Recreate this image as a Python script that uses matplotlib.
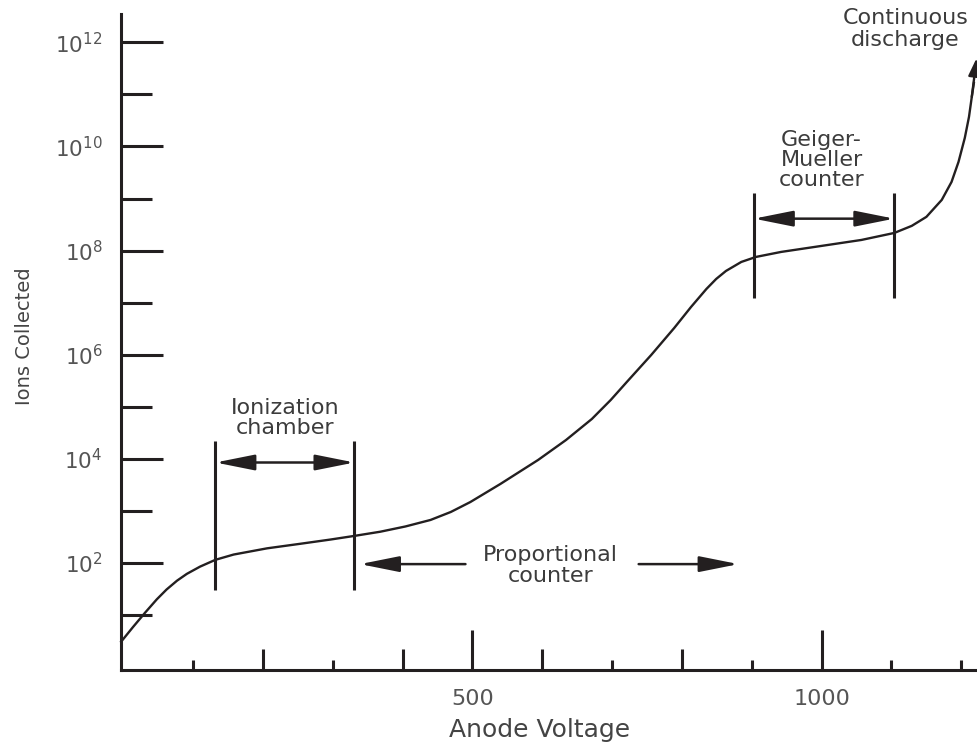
import matplotlib.pyplot as plt
from matplotlib.ticker import FixedLocator, NullFormatter

# Gas detector response curve
voltage = [-3, 14, 31, 48, 62, 77, 91, 110, 132, 158, 206, 254, 297, 331,
           368, 404, 440, 469, 497, 540, 594, 634, 671, 698, 721, 756, 789,
           813, 835, 849, 863, 885, 906, 942, 1000, 1057, 1104, 1129, 1150,
           1172, 1186, 1196, 1205, 1211, 1215, 1218, 1222]
ions = [3.08, 5.89, 11.0, 20.0, 30.9, 45.7, 61.7, 85.1, 115, 145, 191, 234,
        282, 331, 398, 502, 670, 953, 1480, 3290, 9510, 2.30e4, 5.83e4,
        1.35e5, 2.99e5, 9.89e5, 3.27e6, 8.26e6, 1.83e7, 2.85e7, 4.06e7,
        6.05e7, 7.55e7, 9.42e7, 1.23e8, 1.60e8, 2.18e8, 2.98e8, 4.44e8,
        9.40e8, 2.08e9, 5.05e9, 1.46e10, 3.70e10, 8.95e10, 1.66e11, 5.01e11]

# operating regions (anode voltage bounds)
ionization_region = [132, 331]
proportional_region = [339, 881]
geiger_region = [903, 1104]

x_major = [500, 1000]
x_minor = [200, 400, 600, 800]
x_small = [100, 300, 700, 900, 1100, 1200]
y_major = [1e2, 1e4, 1e6, 1e8, 1e10, 1e12]
y_minor = [1e1, 1e3, 1e5, 1e7, 1e9, 1e11]
y_labels = ["$10^{2}$", "$10^{4}$", "$10^{6}$", "$10^{8}$", "$10^{10}$", "$10^{12}$"]

INK = "#231f20"
TXT = "#3c3c3c"

fig = plt.figure(figsize=(9.78, 7.44), dpi=100)
ax = fig.add_axes([0.1234, 0.0995, 0.8756, 0.8817])
ax.set_yscale("log")
ax.set_xlim(-3.7, 1222.5)
ax.set_ylim(0.88, 3.5e12)

for side in ["top", "right"]:
    ax.spines[side].set_visible(False)
for side in ["left", "bottom"]:
    ax.spines[side].set_linewidth(2.2)
    ax.spines[side].set_color(INK)

# the curve, with an arrow at the top end
ax.plot(voltage[:-1], ions[:-1], color=INK, lw=1.7, solid_joinstyle="round",
        clip_on=False)
ax.annotate("", xy=(voltage[-1], ions[-1]), xytext=(voltage[-3], ions[-3]),
            arrowprops=dict(arrowstyle="-|>,head_length=0.9,head_width=0.3",
                            mutation_scale=12, lw=1.7, color=INK,
                            shrinkA=0, shrinkB=0),
            annotation_clip=False)

# y axis ticks
ax.set_yticks(y_major, y_labels)
ax.yaxis.set_minor_locator(FixedLocator(y_minor))
ax.yaxis.set_minor_formatter(NullFormatter())
ax.tick_params(axis="y", which="major", direction="in", length=30, width=2.2,
               color=INK, pad=13, labelsize=15.5, labelcolor="#555555")
ax.tick_params(axis="y", which="minor", direction="in", length=22, width=2.2,
               color=INK)

# x axis ticks
ax.set_xticks(x_major, [str(v) for v in x_major])
ax.xaxis.set_minor_locator(FixedLocator(x_minor))
ax.xaxis.set_minor_formatter(NullFormatter())
ax.tick_params(axis="x", which="major", direction="in", length=29, width=2.2,
               color=INK, pad=14, labelsize=16, labelcolor="#555555")
ax.tick_params(axis="x", which="minor", direction="in", length=15, width=2.2,
               color=INK)
ax.vlines(x_small, 0, 10 / 656, transform=ax.get_xaxis_transform(),
          color=INK, lw=2.2)

ax.set_xlabel("Anode Voltage", fontsize=18, color="#444444", va="center")
ax.xaxis.set_label_coords((540 - 120.7) / 856.3, (670 - 730) / 656)
ax.set_ylabel("Ions Collected", fontsize=14, color="#444444", va="center")
ax.yaxis.set_label_coords((25 - 120.7) / 856.3, (670 - 336) / 656)

arrow = dict(arrowstyle="-|>,head_length=1.6,head_width=0.32",
             mutation_scale=15, lw=1.8, color=INK, shrinkA=0, shrinkB=0)
arrow2 = dict(arrowstyle="<|-|>,head_length=1.6,head_width=0.32",
              mutation_scale=15, lw=1.8, color=INK, shrinkA=0, shrinkB=0)

# ionization chamber
lo, hi = ionization_region
ax.vlines([lo, hi], 30, 2.2e4, color=INK, lw=2.2)
ax.annotate("", xy=(lo, 8.5e3), xytext=(hi, 8.5e3), arrowprops=arrow2)
ax.text(232, 6.1e4, "Ionization\nchamber", ha="center", va="center",
        fontsize=16, color=TXT, linespacing=1.0)

# proportional counter
lo, hi = proportional_region
ax.annotate("", xy=(lo, 95), xytext=(490, 95), arrowprops=arrow)
ax.annotate("", xy=(hi, 95), xytext=(738, 95), arrowprops=arrow)
ax.text(612, 89, "Proportional\ncounter", ha="center", va="center",
        fontsize=16, color=TXT, linespacing=1.05)

# Geiger-Mueller counter
lo, hi = geiger_region
ax.vlines([lo, hi], 1.23e7, 1.3e9, color=INK, lw=2.2)
ax.annotate("", xy=(lo, 4.1e8), xytext=(hi, 4.1e8), arrowprops=arrow2)
ax.text(1000, 5.5e9, "Geiger-\nMueller\ncounter", ha="center", va="center",
        fontsize=16, color=TXT, linespacing=1.0)

# continuous discharge
ax.text(1120, 1.8e12, "Continuous\ndischarge", ha="center", va="center",
        fontsize=16, color=TXT, linespacing=1.1, clip_on=False)

plt.savefig("out.png", dpi=100)
